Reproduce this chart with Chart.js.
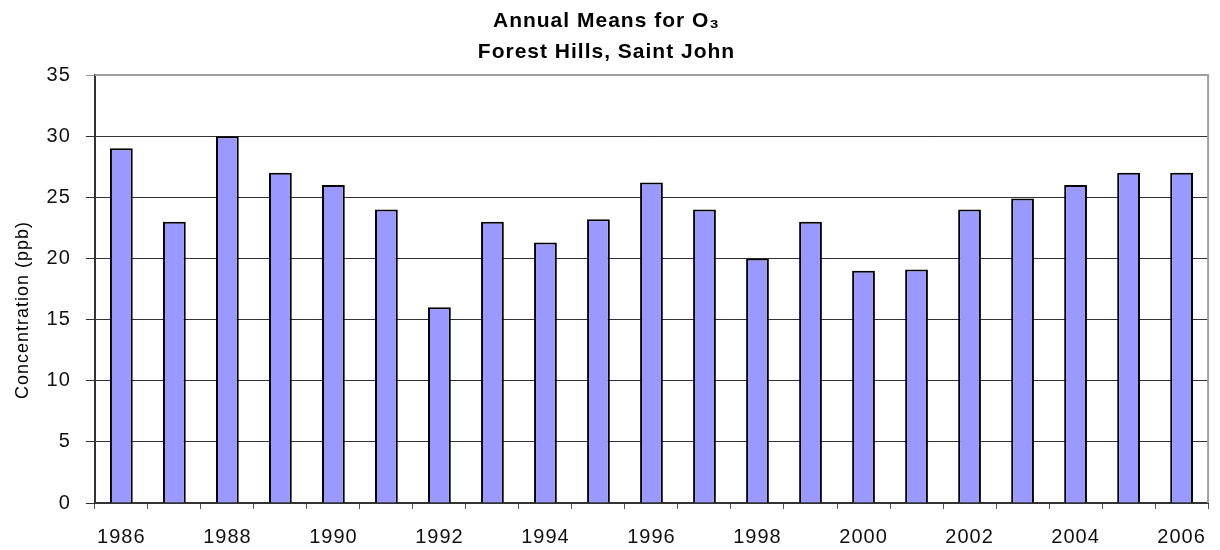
<!DOCTYPE html>
<html lang="en">
<head>
  <meta charset="UTF-8">
  <title>Annual Means for O3 - Forest Hills, Saint John</title>
  <script src="https://cdn.jsdelivr.net/npm/chart.js"></script>
  <style>
    body {
      margin: 0;
      background-color: #fff;
    }

    .chart-box {
      width: 1220px;
      height: 550px;
    }
  </style>
</head>
<body>
  <div class="chart-box">
    <canvas id="ozoneChart"></canvas>
  </div>

  <script>
    const years = ['1986', '1987', '1988', '1989', '1990', '1991', '1992', '1993', '1994', '1995', '1996',
                   '1997', '1998', '1999', '2000', '2001', '2002', '2003', '2004', '2005', '2006'];
    const ozoneMeans = [29, 23, 30, 27, 26, 24, 16, 23, 21.3, 23.2, 26.2,
                        24, 20, 23, 19, 19.1, 24, 24.9, 26, 27, 27];
    const yMin = 0;
    const yMax = 35;
    const yStep = 5;

    const fontFamily = '"Liberation Sans", Arial, sans-serif';

    // spaced-out text like the original export, plus the grey frame on top/right
    const plotFrame = {
      id: 'plotFrame',
      beforeDraw(chart) {
        chart.ctx.letterSpacing = '1px';
      },
      afterDraw(chart) {
        const { ctx, chartArea } = chart;
        ctx.save();
        ctx.strokeStyle = '#a0a0a0';
        ctx.lineWidth = 2;
        ctx.beginPath();
        ctx.moveTo(chartArea.left, chartArea.top);
        ctx.lineTo(chartArea.right, chartArea.top);
        ctx.lineTo(chartArea.right, chartArea.bottom);
        ctx.stroke();
        ctx.restore();
      }
    };

    const ctx = document.getElementById('ozoneChart').getContext('2d');

    new Chart(ctx, {
      type: 'bar',
      data: {
        labels: years,
        datasets: [{
          label: 'O3',
          data: ozoneMeans,
          backgroundColor: '#9999ff',
          borderColor: '#000',
          borderWidth: 2,
          categoryPercentage: 1,
          barPercentage: 0.43,
        }],
      },
      options: {
        responsive: true,
        maintainAspectRatio: false,
        animation: false,
        // tick padding counts twice in the axis size, so pull the bottom back in
        layout: { padding: { left: 0, right: 7, top: 0, bottom: -15 } },
        plugins: {
          legend: { display: false },
          tooltip: { enabled: false },
          title: {
            display: true,
            text: ['Annual Means for O\u2083', 'Forest Hills, Saint John'],
            color: '#000',
            font: { family: fontFamily, size: 21, weight: 'bold', lineHeight: 1.5 },
            padding: { top: 5, bottom: 7 },
          },
        },
        scales: {
          x: {
            grid: {
              offset: true,
              drawOnChartArea: false,
              drawTicks: true,
              tickLength: 6,
              color: '#555',
            },
            border: { color: '#333', width: 2 },
            ticks: {
              autoSkip: false,
              maxRotation: 0,
              padding: 16,
              color: '#111',
              font: { family: fontFamily, size: 20 },
              callback: function (value, index) {
                return index % 2 === 0 ? this.getLabelForValue(value) : '';
              },
            },
          },
          y: {
            min: yMin,
            max: yMax,
            ticks: {
              stepSize: yStep,
              padding: 15,
              color: '#111',
              font: { family: fontFamily, size: 20 },
            },
            grid: {
              color: ctx => (ctx.tick && ctx.tick.value === yMax ? '#a0a0a0' : '#333'),
              lineWidth: 1,
              drawTicks: true,
              tickLength: 9,
            },
            border: { color: '#333', width: 2 },
            title: {
              display: true,
              text: 'Concentration (ppb)' + '\u00a0'.repeat(7),
              color: '#000',
              font: { family: fontFamily, size: 18, lineHeight: 1.2 },
              padding: { top: 12, bottom: 0 },
            },
          },
        },
      },
      plugins: [plotFrame],
    });
  </script>
</body>
</html>
